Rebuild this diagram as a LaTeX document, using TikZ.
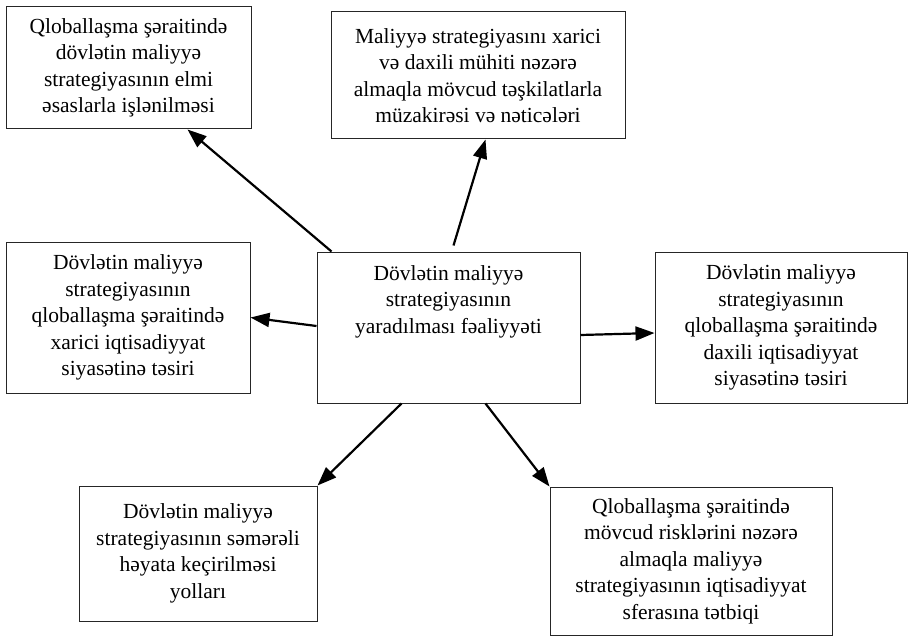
\documentclass[tikz,border=0pt]{standalone}
\usepackage{fontspec}
\setmainfont{Liberation Serif}
\usetikzlibrary{arrows.meta,calc}
\tikzset{
  box/.style={draw=black!85, line width=1pt, inner sep=0pt, align=center,
    font=\fontsize{21.5}{26.5}\selectfont},
  txt/.style={inner sep=0pt, align=center, font=\fontsize{21.5}{26.5}\selectfont},
  arr/.style={line width=2.2pt, -{Triangle[length=19pt,width=14pt]}}
}
\begin{document}
\begin{tikzpicture}[x=1pt,y=-1pt]
\useasboundingbox (0,0) rectangle (909,636);
\node[box, minimum width=245pt, minimum height=122pt] (tl) at (128.5,68)
  {Qloballaşma şəraitində\\dövlətin maliyyə\\strategiyasının elmi\\əsaslarla işlənilməsi};
\node[box, minimum width=294pt, minimum height=127pt] (tc) at (478,75.5)
  {Maliyyə strategiyasını xarici\\və daxili mühiti nəzərə\\almaqla mövcud təşkilatlarla\\müzakirəsi və nəticələri};
\node[box, minimum width=244pt, minimum height=151pt] (ml) at (128,317.5)
  {Dövlətin maliyyə\\strategiyasının\\qloballaşma şəraitində\\xarici iqtisadiyyat\\siyasətinə təsiri};
\node[box, minimum width=263pt, minimum height=151pt] (c) at (448.5,327.5) {};
\node[txt] (ct) at (448.5,301.5)
  {Dövlətin maliyyə\\strategiyasının\\yaradılması fəaliyyəti};
\node[box, minimum width=252pt, minimum height=151pt] (r) at (781,327.5)
  {Dövlətin maliyyə\\strategiyasının\\qloballaşma şəraitində\\daxili iqtisadiyyat\\siyasətinə təsiri};
\node[box, minimum width=238pt, minimum height=135pt] (bl) at (198,553.5)
  {Dövlətin maliyyə\\strategiyasının səmərəli\\həyata keçirilməsi\\yolları};
\node[box, minimum width=282pt, minimum height=148pt] (br) at (691,561)
  {Qloballaşma şəraitində\\mövcud risklərini nəzərə\\almaqla maliyyə\\strategiyasının iqtisadiyyat\\sferasına tətbiqi};
\draw[arr] ($(c.north west)+(15,0)$) -- ($(tl.south west)+(182,0)$);
\draw[arr] ($(c.north west)+(137,-6)$) -- ($(tc.south west)+(155,0)$);
\draw[arr] ($(c.west)+(0,-1.5)$) -- (ml.east);
\draw[arr] ($(c.east)+(0,7.5)$) -- ($(r.west)+(0,5.5)$);
\draw[arr] ($(c.south west)+(85,0)$) -- (bl.north east);
\draw[arr] ($(c.south west)+(169,0)$) -- (br.north west);
\end{tikzpicture}
\end{document}
